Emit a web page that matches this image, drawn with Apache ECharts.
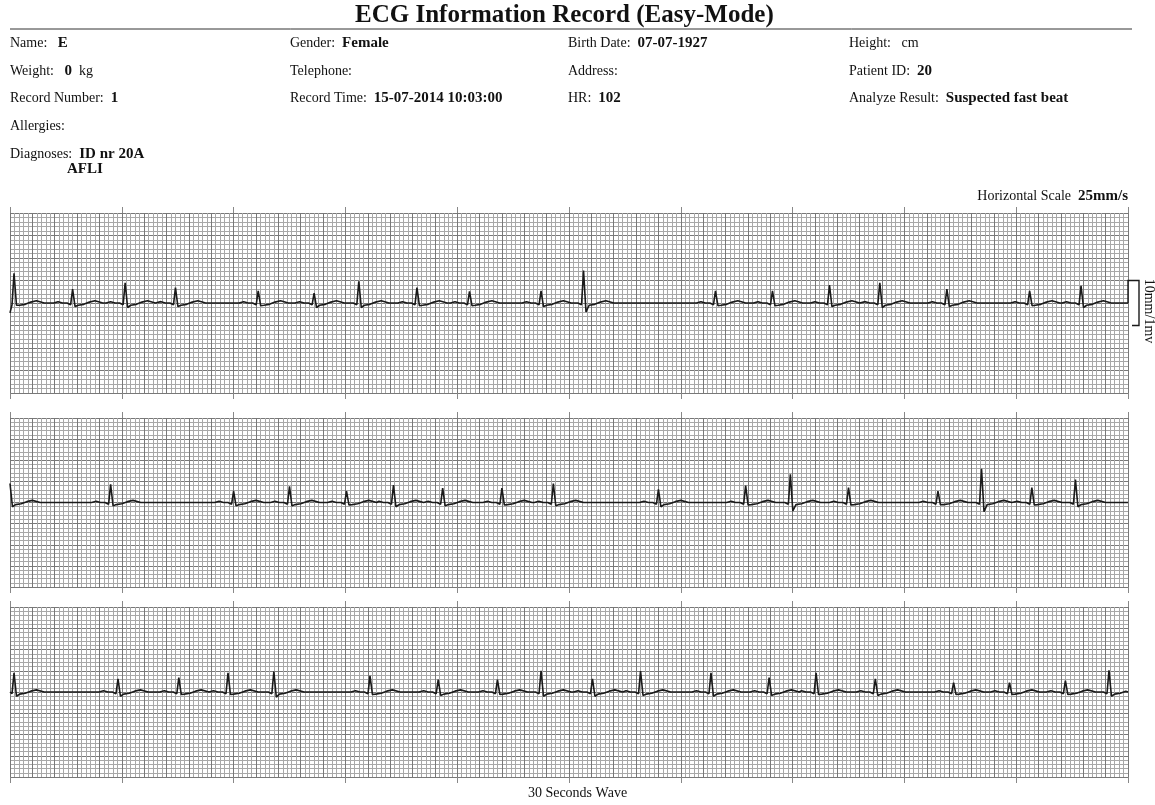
<!DOCTYPE html>
<html><head><meta charset="utf-8">
<script src="https://cdn.jsdelivr.net/npm/echarts@6/dist/echarts.min.js"></script>
<style>html,body{margin:0;padding:0;background:#fff}#c{width:1155px;height:805px}</style>
</head><body><div id="c"></div>
<script>
// ---- data read from the record (seconds, mV) ----
const strip1Times = [0.036, 0.56, 1.03, 1.48, 2.22, 2.72, 3.12, 3.64, 4.11, 4.75, 5.13, 6.31, 6.82, 7.33, 7.78, 8.38, 9.12, 9.58];
const strip1R     = [0.66, 0.31, 0.45, 0.34, 0.27, 0.22, 0.48, 0.34, 0.26, 0.27, 0.72, 0.27, 0.27, 0.40, 0.45, 0.31, 0.27, 0.38];
const strip1S     = [-0.05, -0.08, -0.1, -0.08, -0.06, -0.1, -0.1, -0.06, -0.06, -0.08, -0.2, -0.06, -0.06, -0.08, -0.1, -0.08, -0.06, -0.1];
const strip2Times = [0.0, 0.90, 2.00, 2.50, 3.01, 3.43, 3.87, 4.40, 4.86, 5.80, 6.58, 6.98, 7.50, 8.30, 8.69, 9.14, 9.53];
const strip2R     = [0.45, 0.43, 0.27, 0.38, 0.27, 0.41, 0.34, 0.34, 0.45, 0.31, 0.40, 0.67, 0.35, 0.27, 0.80, 0.35, 0.54];
const strip2S     = [-0.1, -0.08, -0.08, -0.08, -0.06, -0.1, -0.08, -0.06, -0.08, -0.1, -0.06, -0.2, -0.06, -0.05, -0.22, -0.06, -0.1];
const strip3Times = [0.036, 0.966, 1.51, 1.95, 2.36, 3.22, 3.83, 4.36, 4.75, 5.21, 5.64, 6.27, 6.79, 7.21, 7.74, 8.44, 8.94, 9.44, 9.83];
const strip3R     = [0.45, 0.31, 0.34, 0.45, 0.48, 0.38, 0.29, 0.29, 0.50, 0.31, 0.49, 0.45, 0.34, 0.45, 0.31, 0.22, 0.22, 0.27, 0.51];
const strip3S     = [-0.1, -0.1, -0.06, -0.06, -0.12, -0.06, -0.08, -0.06, -0.1, -0.1, -0.08, -0.1, -0.08, -0.06, -0.08, -0.06, -0.06, -0.06, -0.1];
const stripStart  = [-0.22, 0, 0];
// beat shape (offset from R peak in s, level in mV; 'R' and 'S' filled per beat)
const shapeOffsets = [-0.17, -0.13, -0.09, -0.05, -0.018, 0, 0.022, 0.05, 0.1, 0.15, 0.2, 0.27];
const shapeLevels  = [0, 0.03, 0, 0, -0.04, 'R', 'S', -0.05, -0.03, 0.02, 0.05, 0];

const strips = [
  {times: strip1Times, r: strip1R, s: strip1S},
  {times: strip2Times, r: strip2R, s: strip2S},
  {times: strip3Times, r: strip3R, s: strip3S}
];

function buildTrace(st, start) {
  const pts = [[0, start]];
  st.times.forEach((t, i) => {
    shapeOffsets.forEach((o, k) => {
      const x = t + o;
      let v = shapeLevels[k];
      if (v === 'R') v = st.r[i];
      if (v === 'S') v = st.s[i];
      if (x < 0 || x > 10) return;
      if (x <= pts[pts.length - 1][0]) { if (x === 0) pts[pts.length-1] = [0, v]; return; }
      pts.push([+x.toFixed(3), v]);
    });
  });
  if (pts[pts.length - 1][0] < 10) pts.push([10, 0]);
  return pts;
}

const gridPos = [{top: 213, height: 180}, {top: 418, height: 169}, {top: 607, height: 170}];
const LEFT = 10, WIDTH = 1118;
const serif = 'Liberation Serif';
const light = '#a8a8a8', dark = '#787878';

const grids = [], xAxes = [], yAxes = [], series = [];
gridPos.forEach((g, i) => {
  grids.push({left: LEFT, width: WIDTH, top: g.top, height: g.height, containLabel: false, show: false});
  xAxes.push({
    type: 'value', gridIndex: i, position: 'top', min: 0, max: 10, interval: 1, z: 0,
    axisLine: {show: false, onZero: false}, axisLabel: {show: false},
    axisTick: {show: true, inside: false, length: 6, lineStyle: {color: '#888', width: 1}},
    splitLine: {show: false},
    minorTick: {show: false, splitNumber: 25},
    minorSplitLine: {show: true, lineStyle: {color: light, width: 1}}
  });
  xAxes.push({
    type: 'value', gridIndex: i, position: 'bottom', min: 0, max: 10, interval: 1, z: 1,
    axisLine: {show: false, onZero: false}, axisLabel: {show: false},
    axisTick: {show: true, inside: false, length: 6, lineStyle: {color: '#888', width: 1}},
    splitLine: {show: true, lineStyle: {color: dark, width: 1}},
    minorTick: {show: false, splitNumber: 5},
    minorSplitLine: {show: true, lineStyle: {color: dark, width: 1}}
  });
  yAxes.push({
    type: 'value', gridIndex: i, min: -2, max: 2, interval: 0.5,
    axisLine: {show: false, onZero: false}, axisLabel: {show: false}, axisTick: {show: false},
    splitLine: {show: true, lineStyle: {color: dark, width: 1}},
    minorTick: {show: false, splitNumber: 5},
    minorSplitLine: {show: true, lineStyle: {color: light, width: 1}}
  });
  series.push({
    type: 'line', xAxisIndex: 2 * i + 1, yAxisIndex: i, data: buildTrace(strips[i], stripStart[i]),
    showSymbol: false, symbol: 'none', smooth: false, z: 5,
    lineStyle: {color: '#1a1a1a', width: 1.6}
  });
});

const lbl = {fontFamily: serif, fontSize: 14, fontWeight: 'normal', color: '#111'};
const bld = {fontFamily: serif, fontSize: 15, fontWeight: 'bold', color: '#111'};
function field(text, left, cy) {
  return {text, left, top: cy - 9, padding: 0,
    textStyle: {fontFamily: serif, fontSize: 14, fontWeight: 'normal', lineHeight: 18, color: '#111', rich: {l: lbl, b: bld}}};
}
const titles = [
  {text: 'ECG Information Record (Easy-Mode)', left: 355, top: 3, padding: 0,
   textStyle: {fontFamily: serif, fontSize: 25, fontWeight: 'bold', color: '#111', lineHeight: 26}},
  field('{l|Name:}   {b|E}', 10, 43),
  field('{l|Gender:}  {b|Female}', 290, 43),
  field('{l|Birth Date:}  {b|07-07-1927}', 568, 43),
  field('{l|Height:}   {l|cm}', 849, 43),
  field('{l|Weight:}   {b|0}  {l|kg}', 10, 71),
  field('{l|Telephone:}', 290, 71),
  field('{l|Address:}', 568, 71),
  field('{l|Patient ID:}  {b|20}', 849, 71),
  field('{l|Record Number:}  {b|1}', 10, 98),
  field('{l|Record Time:}  {b|15-07-2014 10:03:00}', 290, 98),
  field('{l|HR:}  {b|102}', 568, 98),
  field('{l|Analyze Result:}  {b|Suspected fast beat}', 849, 98),
  field('{l|Allergies:}', 10, 126),
  field('{l|Diagnoses:}  {b|ID nr 20A}', 10, 154),
  field('{b|AFLI}', 67, 169),
  {text: '{l|Horizontal Scale}  {b|25mm/s}', right: 27, top: 187, padding: 0,
   textStyle: {fontFamily: serif, fontSize: 14, fontWeight: 'normal', lineHeight: 18, rich: {l: lbl, b: bld}}},
  {text: '30 Seconds Wave', left: 'center', top: 785, padding: 0,
   textStyle: {fontFamily: serif, fontSize: 14, fontWeight: 'normal', color: '#111', lineHeight: 16}}
];

const chart = echarts.init(document.getElementById('c'), null, {renderer: 'canvas'});
chart.setOption({
  animation: false,
  backgroundColor: '#ffffff',
  title: titles,
  grid: grids, xAxis: xAxes, yAxis: yAxes, series
});

// calibration mark (1 mV) on the first strip
const f = {xAxisIndex: 1, yAxisIndex: 0};
const pBase = chart.convertToPixel(f, [10, 0]);
const pTop = chart.convertToPixel(f, [10, 0.5]);
const pBot = chart.convertToPixel(f, [10, -0.5]);
const xr = pBase[0];
chart.setOption({
  graphic: [
    {type: 'line', shape: {x1: 10, y1: 29, x2: 1132, y2: 29}, style: {stroke: '#333', lineWidth: 1}},
    {type: 'polyline', shape: {points: [[xr, pBase[1]], [xr, pTop[1]], [xr + 11, pTop[1]], [xr + 11, pBot[1]], [xr + 4, pBot[1]]]},
     style: {stroke: '#1a1a1a', lineWidth: 1.4, fill: null}, z: 10},
    {type: 'text', x: xr + 21, y: pBase[1] + 8, rotation: -Math.PI / 2,
     style: {text: '10mm/1mv', font: '14px "Liberation Serif"', fill: '#111', align: 'center', verticalAlign: 'middle'}, z: 10}
  ]
});
</script></body></html>
